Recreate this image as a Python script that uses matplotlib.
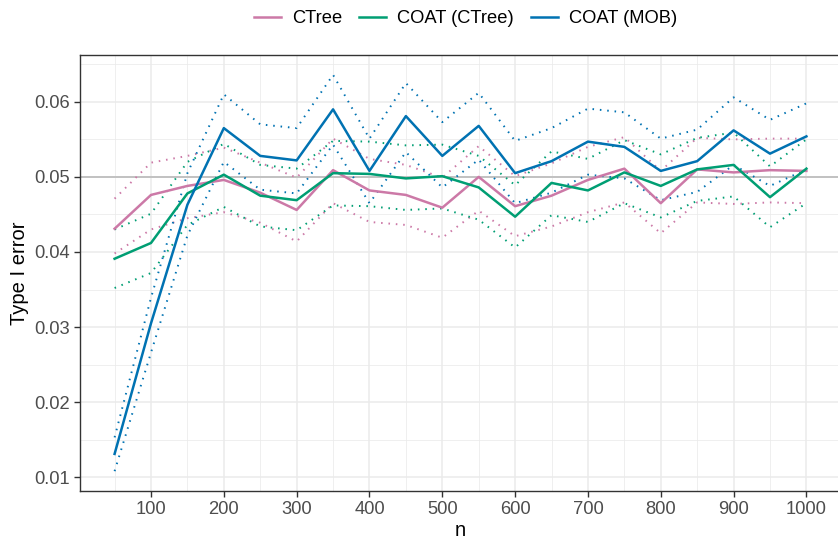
import matplotlib
matplotlib.use("Agg")
import matplotlib.pyplot as plt
from matplotlib.ticker import MultipleLocator, FixedLocator

plt.rcParams['font.family'] = ['Liberation Sans', 'DejaVu Sans']

n = [50, 100, 150, 200, 250, 300, 350, 400, 450, 500, 550, 600, 650, 700, 750, 800, 850, 900, 950, 1000]

ctree = [0.0431, 0.0476, 0.0488, 0.0496, 0.0479, 0.0456, 0.0509, 0.0482, 0.0476, 0.0459,
         0.0500, 0.0461, 0.0475, 0.0496, 0.0511, 0.0465, 0.0510, 0.0506, 0.0509, 0.0508]
ctree_hi = [0.0471, 0.0519, 0.0528, 0.0539, 0.0519, 0.0499, 0.0551, 0.0524, 0.0516, 0.0499,
            0.0541, 0.0501, 0.0518, 0.0540, 0.0553, 0.0508, 0.0552, 0.0550, 0.0551, 0.0551]
ctree_lo = [0.0398, 0.0430, 0.0445, 0.0453, 0.0439, 0.0414, 0.0465, 0.0440, 0.0436, 0.0419,
            0.0455, 0.0421, 0.0434, 0.0453, 0.0466, 0.0425, 0.0466, 0.0464, 0.0466, 0.0465]

coat_ctree = [0.0391, 0.0412, 0.0478, 0.0503, 0.0475, 0.0469, 0.0505, 0.0504, 0.0498, 0.0501,
              0.0486, 0.0447, 0.0492, 0.0482, 0.0506, 0.0488, 0.0510, 0.0516, 0.0473, 0.0511]
coat_ctree_hi = [0.0430, 0.0451, 0.0520, 0.0544, 0.0516, 0.0511, 0.0548, 0.0547, 0.0542, 0.0543,
                 0.0528, 0.0489, 0.0534, 0.0524, 0.0549, 0.0530, 0.0552, 0.0559, 0.0514, 0.0550]
coat_ctree_lo = [0.0352, 0.0372, 0.0436, 0.0460, 0.0434, 0.0429, 0.0462, 0.0461, 0.0456, 0.0458,
                 0.0443, 0.0406, 0.0449, 0.0440, 0.0465, 0.0446, 0.0468, 0.0474, 0.0433, 0.0465]

coat_mob = [0.0131, 0.0305, 0.0463, 0.0565, 0.0528, 0.0522, 0.0590, 0.0508, 0.0581, 0.0528,
            0.0568, 0.0505, 0.0521, 0.0547, 0.0540, 0.0508, 0.0521, 0.0562, 0.0531, 0.0554]
coat_mob_hi = [0.0153, 0.0339, 0.0505, 0.0610, 0.0570, 0.0565, 0.0636, 0.0551, 0.0625, 0.0573,
               0.0612, 0.0548, 0.0565, 0.0591, 0.0586, 0.0551, 0.0563, 0.0606, 0.0576, 0.0598]
coat_mob_lo = [0.0108, 0.0266, 0.0422, 0.0520, 0.0483, 0.0478, 0.0543, 0.0465, 0.0533, 0.0486,
               0.0523, 0.0465, 0.0479, 0.0503, 0.0498, 0.0469, 0.0480, 0.0516, 0.0488, 0.0510]

series = [
    ("CTree", ctree, ctree_lo, ctree_hi, "#CC79A7"),
    ("COAT (CTree)", coat_ctree, coat_ctree_lo, coat_ctree_hi, "#009E73"),
    ("COAT (MOB)", coat_mob, coat_mob_lo, coat_mob_hi, "#0072B2"),
]

x_ticks = [100, 200, 300, 400, 500, 600, 700, 800, 900, 1000]
y_ticks = [0.01, 0.02, 0.03, 0.04, 0.05, 0.06]

fig = plt.figure(figsize=(8.38, 5.39), dpi=100)
ax = fig.add_axes([80 / 838, 1 - 491 / 539, 761 / 838, (491 - 55) / 539])

ax.axhline(0.05, color="#BEBEBE", lw=1.3, zorder=1)

for label, mid, lo, hi, col in series:
    ax.plot(n, mid, color=col, lw=1.8, label=label, zorder=3)
    ax.plot(n, lo, color=col, lw=1.4, linestyle=(0, (0.8, 3.0)), zorder=2)
    ax.plot(n, hi, color=col, lw=1.4, linestyle=(0, (0.8, 3.0)), zorder=2)

ax.set_xlim(2.5, 1047.5)
ax.set_ylim(0.00816, 0.06624)
ax.xaxis.set_major_locator(FixedLocator(x_ticks))
ax.yaxis.set_major_locator(FixedLocator(y_ticks))
ax.xaxis.set_minor_locator(MultipleLocator(50))
ax.yaxis.set_minor_locator(FixedLocator([0.005 + 0.01 * i for i in range(7)]))
ax.set_xticklabels([str(v) for v in x_ticks])
ax.set_yticklabels(["%.2f" % v for v in y_ticks])

ax.grid(which="major", color="#EBEBEB", lw=1.1, zorder=0)
ax.grid(which="minor", color="#EBEBEB", lw=0.55, zorder=0)
ax.set_axisbelow(True)

for s in ax.spines.values():
    s.set_color("#333333")
    s.set_linewidth(1.0)
ax.spines["right"].set_visible(False)

ax.tick_params(which="major", direction="out", length=4, width=1.0, color="#333333",
               labelcolor="#4D4D4D", labelsize=13.2, pad=3)
ax.tick_params(which="minor", length=0)

ax.set_xlabel("n", fontsize=14.5, labelpad=2)
ax.set_ylabel("Type I error", fontsize=14.5, labelpad=4)

leg = fig.legend(loc="upper center", bbox_to_anchor=(0.5555, 1.005), ncol=3, frameon=False,
                 fontsize=13.2, handlelength=1.5, handletextpad=0.6, columnspacing=0.9,
                 borderaxespad=0.3)

fig.savefig("out.png", dpi=100)
